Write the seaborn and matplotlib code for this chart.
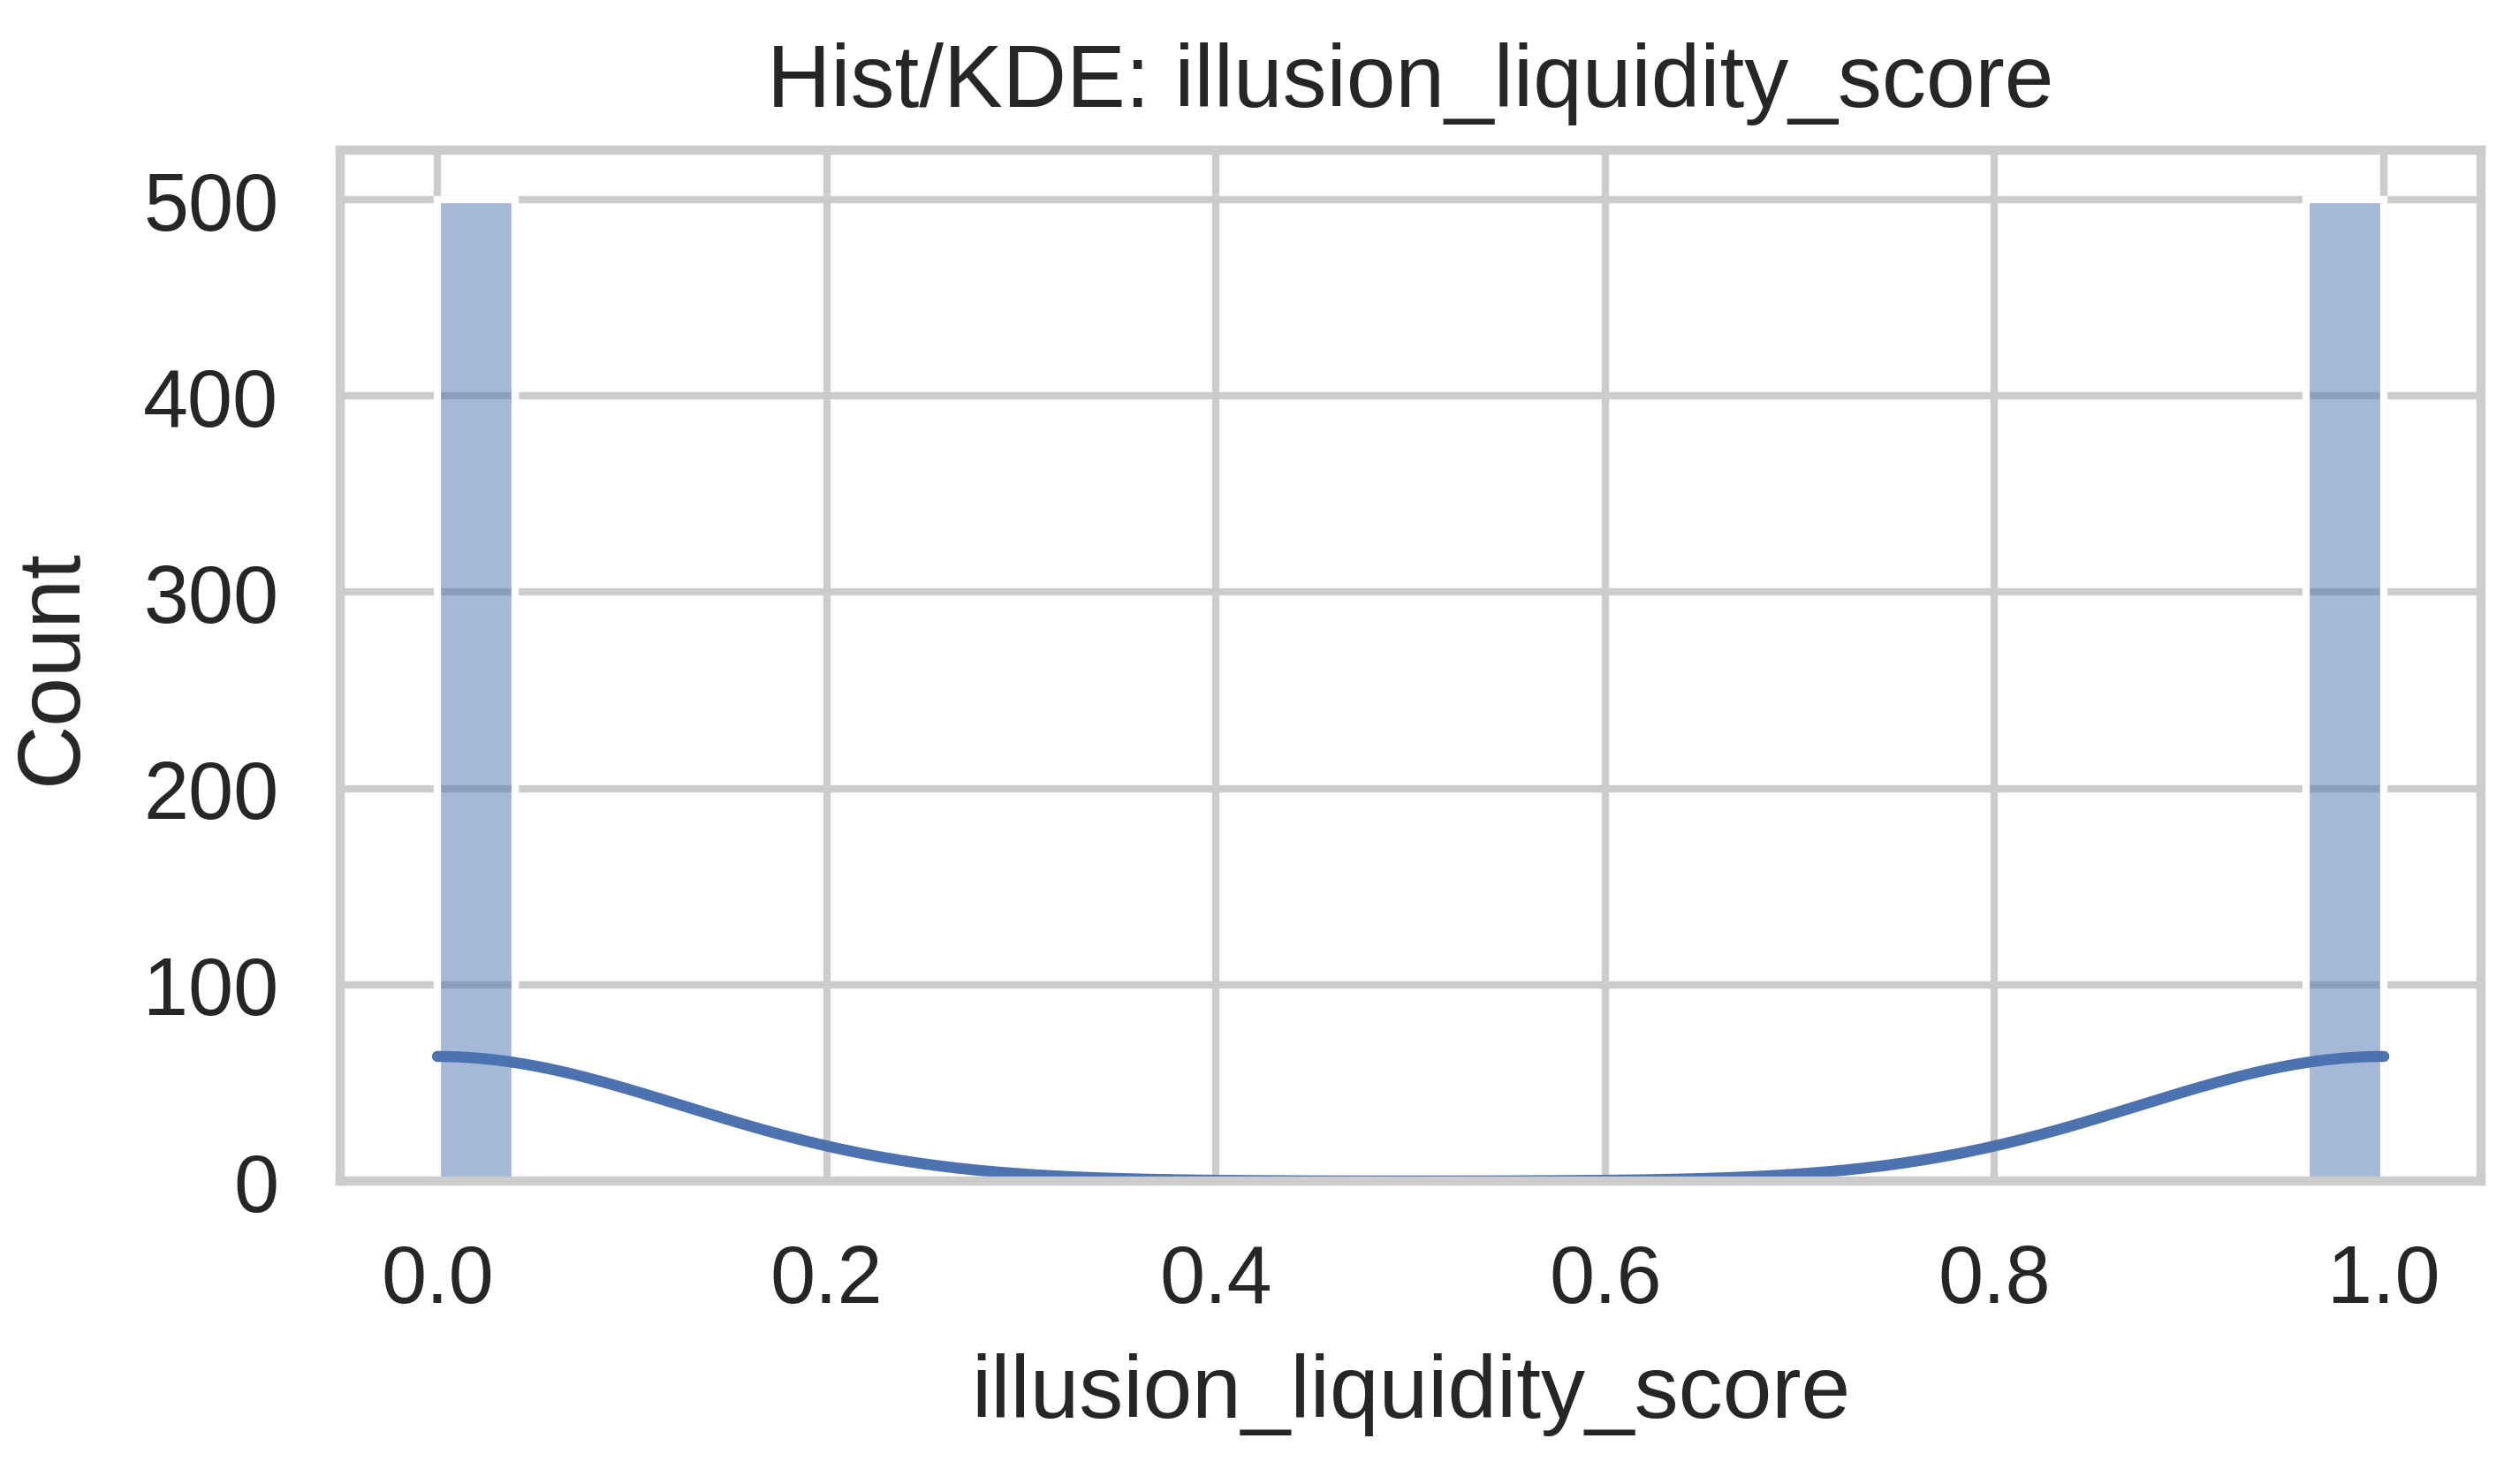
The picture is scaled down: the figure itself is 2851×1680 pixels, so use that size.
import numpy as np
import pandas as pd
import seaborn as sns
import matplotlib.pyplot as plt

# score values seen in the data and how often each one occurs
score_values = [0.0, 1.0]
score_counts = [500, 500]

df = pd.DataFrame({"illusion_liquidity_score": np.repeat(score_values, score_counts)})

sns.set_theme(style="whitegrid", context="talk")
plt.rcParams["font.family"] = ["Liberation Sans", "DejaVu Sans"]

fig = plt.figure(figsize=(2851 / 400, 1681 / 400), dpi=400)
ax = fig.add_axes([0.135, 0.204, 0.85, 0.694])
sns.histplot(data=df, x="illusion_liquidity_score", bins=25, kde=True, ax=ax)
ax.set_title("Hist/KDE: illusion_liquidity_score", pad=9)
ax.set_xlabel("illusion_liquidity_score", labelpad=7)
ax.set_ylabel("Count", labelpad=10)
fig.savefig("out.png", dpi=400)
